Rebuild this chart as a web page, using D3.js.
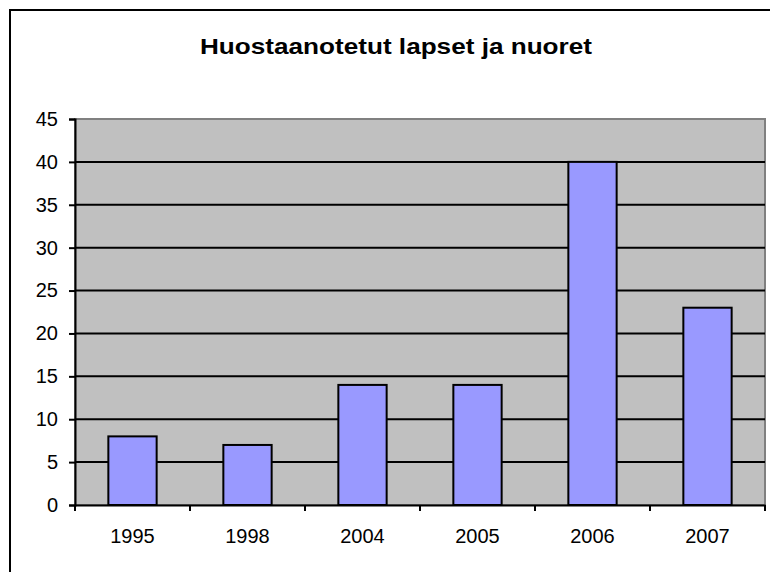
<!DOCTYPE html>
<html>
<head>
<meta charset="utf-8">
<script src="https://cdn.jsdelivr.net/npm/d3@7"></script>
<style>
  body { margin: 0; background: #fff; }
  svg text { font-family: "Liberation Sans", Arial, sans-serif; fill: #000; }
</style>
</head>
<body>
<div id="chart"></div>
<script>
// data
const years = ["1995", "1998", "2004", "2005", "2006", "2007"];
const counts = [8, 7, 14, 14, 40, 23];
const yTicks = [0, 5, 10, 15, 20, 25, 30, 35, 40, 45];
const title = "Huostaanotetut lapset ja nuoret";

const width = 770;
const height = 572;
const plot = { left: 75, right: 765, top: 119, bottom: 505 };

const svg = d3.select("#chart")
    .append("svg")
    .attr("width", width)
    .attr("height", height);

// outer chart frame (cut off at right/bottom like the reference)
svg.append("rect")
    .attr("x", 10).attr("y", 10)
    .attr("width", 790).attr("height", 600)
    .attr("fill", "#fff")
    .attr("stroke", "#000")
    .attr("stroke-width", 2);

svg.append("text")
    .attr("x", 396)
    .attr("y", 54)
    .attr("text-anchor", "middle")
    .attr("font-size", 22)
    .attr("font-weight", "bold")
    .attr("textLength", 392)
    .attr("lengthAdjust", "spacingAndGlyphs")
    .text(title);

const x = d3.scaleBand()
    .domain(years)
    .range([plot.left, plot.right])
    .paddingInner(0.58)
    .paddingOuter(0.29);

const y = d3.scaleLinear()
    .domain([0, 45])
    .range([plot.bottom, plot.top]);

// plot area
svg.append("rect")
    .attr("x", plot.left)
    .attr("y", plot.top)
    .attr("width", plot.right - plot.left)
    .attr("height", plot.bottom - plot.top)
    .attr("fill", "#c0c0c0")
    .attr("stroke", "#808080")
    .attr("stroke-width", 2);

// gridlines
svg.append("g")
    .selectAll("line")
    .data(yTicks.filter(d => d > 0 && d < 45))
    .join("line")
    .attr("x1", plot.left).attr("x2", plot.right)
    .attr("y1", d => y(d)).attr("y2", d => y(d))
    .attr("stroke", "#000")
    .attr("stroke-width", 2);

// bars
svg.append("g")
    .selectAll("rect")
    .data(years.map((yr, i) => ({ yr, v: counts[i] })))
    .join("rect")
    .attr("x", d => x(d.yr))
    .attr("y", d => y(d.v))
    .attr("width", x.bandwidth())
    .attr("height", d => y(0) - y(d.v))
    .attr("fill", "#9999ff")
    .attr("stroke", "#000")
    .attr("stroke-width", 2);

// y axis
const yAxis = svg.append("g")
    .attr("transform", `translate(${plot.left},0)`)
    .call(d3.axisLeft(y).tickValues(yTicks).tickSize(6).tickPadding(11));
yAxis.select(".domain").attr("stroke-width", 2);
yAxis.selectAll(".tick line").attr("stroke-width", 2);
yAxis.selectAll("text").attr("font-size", 20).attr("font-family", null);

// x axis: ticks sit between categories
const xAxis = svg.append("g")
    .attr("transform", `translate(0,${plot.bottom})`)
    .call(d3.axisBottom(x).tickSize(0).tickPadding(24).tickSizeOuter(0));
xAxis.select(".domain").attr("stroke-width", 2);
xAxis.selectAll("text").attr("font-size", 20).attr("font-family", null);
xAxis.selectAll(".sep")
    .data(d3.range(years.length + 1))
    .join("line")
    .attr("class", "sep")
    .attr("x1", i => plot.left + i * x.step())
    .attr("x2", i => plot.left + i * x.step())
    .attr("y1", 0).attr("y2", 6)
    .attr("stroke", "#000")
    .attr("stroke-width", 2);
</script>
</body>
</html>
